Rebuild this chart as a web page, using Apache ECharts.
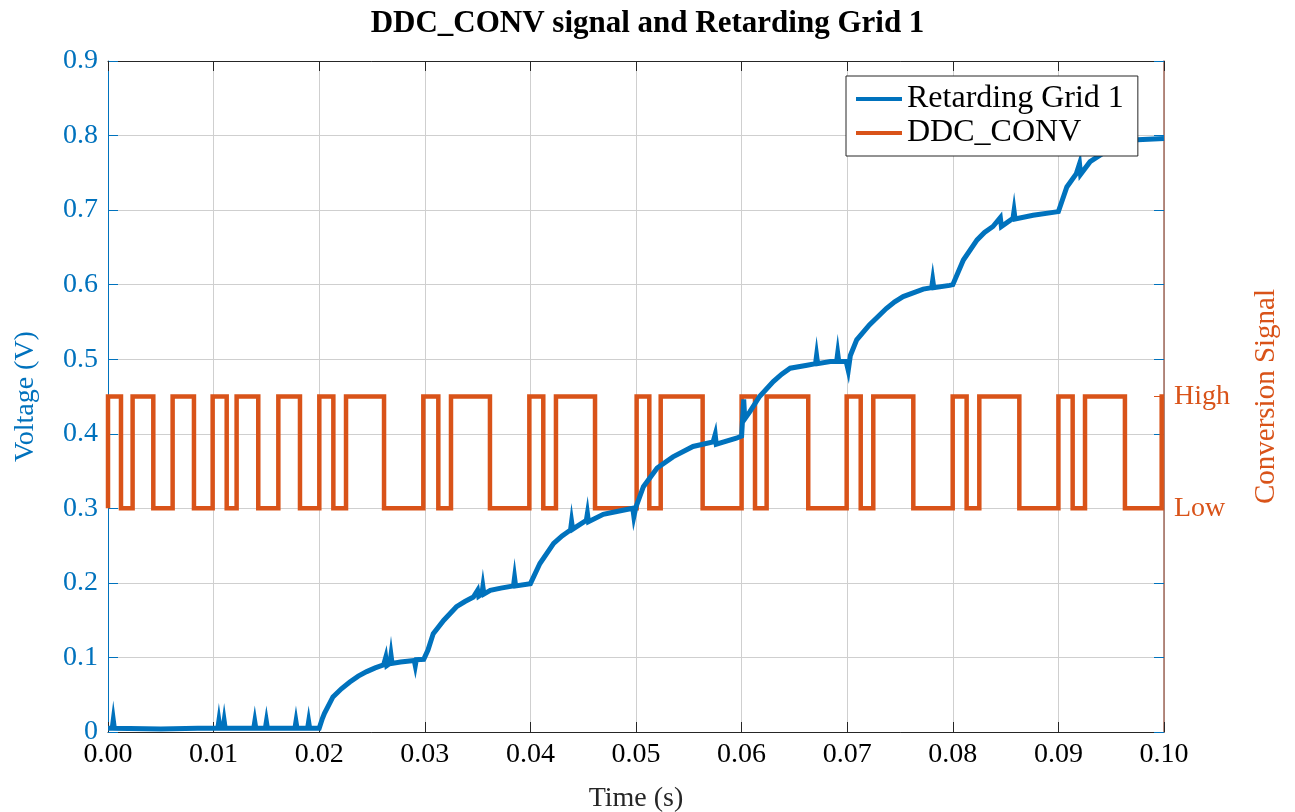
<!DOCTYPE html>
<html>
<head>
<meta charset="utf-8">
<title>DDC_CONV signal and Retarding Grid 1</title>
<script src="https://cdn.jsdelivr.net/npm/echarts@6/dist/echarts.min.js"></script>
<style>
  html, body { margin: 0; padding: 0; background: #fff; }
  #chart { width: 1295px; height: 812px; }
</style>
</head>
<body>
<div id="chart"></div>
<script>
// x ticks (s) and y ticks (V)
var timeTicks = [0, 0.01, 0.02, 0.03, 0.04, 0.05, 0.06, 0.07, 0.08, 0.09, 0.1];
var voltTicks = [0, 0.1, 0.2, 0.3, 0.4, 0.5, 0.6, 0.7, 0.8, 0.9];

// Retarding Grid 1: [time, voltage]
var gridVoltage = [
    [0.0000, 0.005], [0.0004, 0.005], [0.0005, 0.016], [0.0006, 0.005],
    [0.0050, 0.004], [0.0085, 0.005],
    [0.0104, 0.005], [0.0105, 0.015], [0.0106, 0.005],
    [0.0109, 0.005], [0.0110, 0.015], [0.0111, 0.005],
    [0.0138, 0.005], [0.0139, 0.014], [0.0140, 0.005],
    [0.0149, 0.005], [0.0150, 0.014], [0.0151, 0.005],
    [0.0177, 0.005], [0.0178, 0.014], [0.0179, 0.005],
    [0.0189, 0.005], [0.0190, 0.014], [0.0191, 0.005],
    [0.0200, 0.005], [0.0203, 0.018], [0.0205, 0.025],
    [0.0213, 0.047], [0.0221, 0.058], [0.0229, 0.067], [0.0237, 0.075],
    [0.0245, 0.081], [0.0253, 0.086], [0.0261, 0.090],
    [0.0263, 0.100], [0.0264, 0.089], [0.0267, 0.092], [0.0268, 0.103], [0.0269, 0.092],
    [0.0277, 0.094], [0.0290, 0.096], [0.0291, 0.089], [0.0292, 0.097], [0.0299, 0.0975],
    [0.0303, 0.110], [0.0308, 0.132], [0.0318, 0.150], [0.0330, 0.168],
    [0.0338, 0.175], [0.0346, 0.181], [0.0350, 0.190], [0.0351, 0.182],
    [0.0354, 0.185], [0.0355, 0.195], [0.0356, 0.185], [0.0362, 0.190],
    [0.0372, 0.193], [0.0384, 0.196], [0.0385, 0.207], [0.0386, 0.196], [0.0400, 0.199],
    [0.0409, 0.226], [0.0422, 0.253], [0.0430, 0.263], [0.0438, 0.271],
    [0.0439, 0.282], [0.0440, 0.272], [0.0453, 0.284], [0.0454, 0.293], [0.0455, 0.282],
    [0.0469, 0.292], [0.0483, 0.296], [0.0497, 0.300], [0.0498, 0.289], [0.0500, 0.302],
    [0.0507, 0.329], [0.0520, 0.354], [0.0535, 0.369], [0.0554, 0.383],
    [0.0573, 0.389], [0.0575, 0.399], [0.0576, 0.386], [0.0595, 0.394], [0.0600, 0.397],
    [0.0602, 0.446], [0.0603, 0.420], [0.0608, 0.430], [0.0617, 0.450], [0.0630, 0.470],
    [0.0638, 0.480], [0.0646, 0.488], [0.0662, 0.492], [0.0670, 0.494],
    [0.0671, 0.505], [0.0672, 0.494], [0.0684, 0.497], [0.0690, 0.497],
    [0.0691, 0.508], [0.0692, 0.497], [0.0699, 0.497], [0.0701, 0.485],
    [0.0703, 0.505], [0.0709, 0.526], [0.0721, 0.546], [0.0737, 0.568],
    [0.0745, 0.577], [0.0753, 0.584], [0.0772, 0.594], [0.0780, 0.596],
    [0.0781, 0.606], [0.0782, 0.596], [0.0797, 0.599], [0.0800, 0.600],
    [0.0810, 0.633], [0.0823, 0.660], [0.0830, 0.670], [0.0838, 0.678],
    [0.0845, 0.690], [0.0846, 0.678],
    [0.0857, 0.689], [0.0858, 0.699], [0.0859, 0.688], [0.0876, 0.693], [0.0900, 0.698],
    [0.0908, 0.731], [0.0917, 0.749], [0.0920, 0.762], [0.0921, 0.748],
    [0.0930, 0.765], [0.0942, 0.776], [0.0950, 0.782], [0.0960, 0.790],
    [0.0970, 0.794], [0.1000, 0.796]
];

// DDC_CONV: low / high levels drawn on the voltage scale, and the switching times
var convLevels = [0.3, 0.45];
var convEdges = [
    0.00123, 0.00233, 0.00429, 0.00612, 0.00814, 0.00991, 0.01124, 0.01218,
    0.01423, 0.01613, 0.01818, 0.02001, 0.02134, 0.02254, 0.02614, 0.02986,
    0.03128, 0.03248, 0.03617, 0.03990, 0.04122, 0.04242, 0.04612, 0.05006,
    0.05126, 0.05234, 0.05631, 0.06000, 0.06127, 0.06237, 0.06631, 0.06995,
    0.07128, 0.07247, 0.07626, 0.07999, 0.08131, 0.08251, 0.08630, 0.09000,
    0.09135, 0.09252, 0.09630, 0.09978
];

var blue = '#0072BD', orange = '#D95319', dark = '#262626', gridGrey = '#cfcfcf';
var serif = 'Liberation Serif';

// square wave: starts low, jumps high at t=0, then toggles at each edge
var convData = [[0, convLevels[0]], [0, convLevels[1]]];
var state = 1;
for (var i = 0; i < convEdges.length; i++) {
    convData.push([convEdges[i], convLevels[state]]);
    state = 1 - state;
    convData.push([convEdges[i], convLevels[state]]);
}
convData.push([timeTicks[timeTicks.length - 1], convLevels[state]]);

var chart = echarts.init(document.getElementById('chart'), null, {renderer: 'canvas'});
var option = {
    backgroundColor: '#fff',
    animation: false,
    title: {
        text: 'DDC_CONV signal and Retarding Grid 1',
        left: 'center',
        top: 3,
        textStyle: {fontFamily: serif, fontSize: 31, fontWeight: 'bold', color: '#000'}
    },
    legend: {
        orient: 'vertical',
        left: 846,
        top: 76,
        padding: [7, 14, 7, 10],
        itemGap: 2,
        itemWidth: 46,
        itemHeight: 4,
        icon: 'rect',
        backgroundColor: '#fff',
        borderColor: dark,
        borderWidth: 1,
        borderRadius: 0,
        textStyle: {fontFamily: serif, fontSize: 32, color: '#000'},
        data: ['Retarding Grid 1', 'DDC_CONV']
    },
    grid: {left: 108, right: 131, top: 61, bottom: 80, containLabel: false, outerBoundsMode: 'none'},
    xAxis: [{
        type: 'value',
        min: timeTicks[0],
        max: timeTicks[timeTicks.length - 1],
        interval: 0.01,
        name: 'Time (s)',
        nameLocation: 'middle',
        nameGap: 53,
        nameTextStyle: {fontFamily: serif, fontSize: 28, color: dark},
        axisLine: {lineStyle: {color: dark, width: 1}},
        axisTick: {inside: true, length: 10, lineStyle: {color: dark}},
        axisLabel: {
            fontFamily: serif, fontSize: 28, color: '#000', margin: 9,
            formatter: function(v){ return v.toFixed(2); }
        },
        splitLine: {show: true, lineStyle: {color: gridGrey, width: 1}}
    }, {
        type: 'value',
        position: 'top',
        min: timeTicks[0],
        max: timeTicks[timeTicks.length - 1],
        interval: 0.01,
        axisLine: {onZero: false, lineStyle: {color: dark, width: 1}},
        axisTick: {inside: true, length: 10, lineStyle: {color: dark}},
        axisLabel: {show: false},
        splitLine: {show: false}
    }],
    yAxis: [{
        type: 'value',
        position: 'left',
        min: voltTicks[0],
        max: voltTicks[voltTicks.length - 1],
        interval: 0.1,
        name: 'Voltage (V)',
        nameLocation: 'middle',
        nameGap: 68,
        nameTextStyle: {fontFamily: serif, fontSize: 28, color: blue},
        axisLine: {show: true, onZero: false, lineStyle: {color: blue, width: 1}},
        axisTick: {show: true, inside: true, length: 10, lineStyle: {color: blue}},
        axisLabel: {
            fontFamily: serif, fontSize: 28, color: blue, margin: 10,
            formatter: function(v){ return v === 0 ? '0' : v.toFixed(1); }
        },
        splitLine: {show: true, lineStyle: {color: gridGrey, width: 1}}
    }, {
        type: 'value',
        position: 'right',
        min: voltTicks[0],
        max: voltTicks[voltTicks.length - 1],
        name: 'Conversion Signal',
        nameLocation: 'middle',
        nameGap: 88,
        nameTextStyle: {fontFamily: serif, fontSize: 29, color: orange},
        axisLine: {show: true, onZero: false, lineStyle: {color: '#a0685a', width: 1.5}},
        axisTick: {show: true, inside: true, length: 10, customValues: convLevels, lineStyle: {color: orange}},
        axisLabel: {
            fontFamily: serif, fontSize: 28, color: orange, margin: 10,
            customValues: convLevels,
            formatter: function(v){ return Math.abs(v - convLevels[1]) < 1e-6 ? 'High' : (Math.abs(v - convLevels[0]) < 1e-6 ? 'Low' : ''); }
        },
        splitLine: {show: false}
    }, {
        type: 'value',
        position: 'right',
        min: voltTicks[0],
        max: voltTicks[voltTicks.length - 1],
        interval: 0.1,
        axisLine: {show: false, onZero: false},
        axisTick: {show: true, inside: true, length: 10, lineStyle: {color: blue}},
        axisLabel: {show: false},
        splitLine: {show: false}
    }],
    series: [{
        name: 'Retarding Grid 1',
        type: 'line',
        xAxisIndex: 0,
        yAxisIndex: 0,
        data: gridVoltage,
        showSymbol: false,
        symbol: 'none',
        z: 3,
        lineStyle: {color: blue, width: 5, join: 'miter'},
        itemStyle: {color: blue}
    }, {
        name: 'DDC_CONV',
        type: 'line',
        xAxisIndex: 0,
        yAxisIndex: 1,
        data: convData,
        showSymbol: false,
        symbol: 'none',
        z: 2,
        lineStyle: {color: orange, width: 4.5, join: 'miter'},
        itemStyle: {color: orange}
    }]
};
chart.setOption(option);
</script>
</body>
</html>
